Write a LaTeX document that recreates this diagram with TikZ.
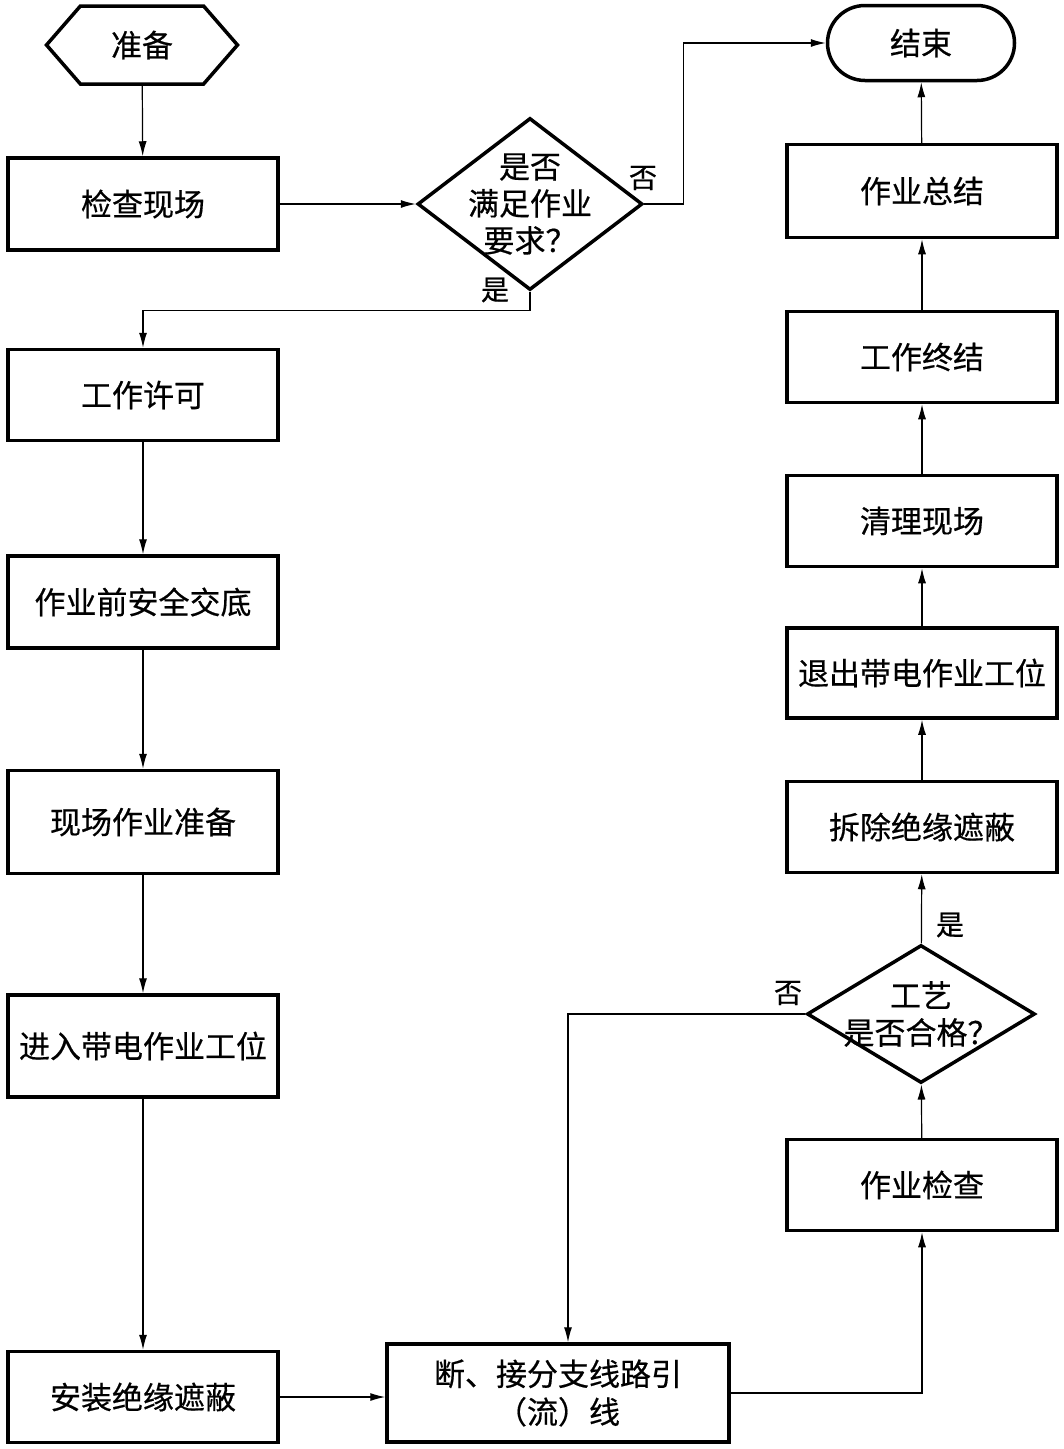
\documentclass[tikz,border=0pt]{standalone}
\usepackage{fontspec}
\setmainfont{Noto Sans CJK SC}[FakeBold=0.5]
\usetikzlibrary{arrows.meta,shapes.geometric,shapes.misc,shapes.symbols}
\newcommand{\thickw}{3.5pt}
\newcommand{\thinw}{1.2pt}

\begin{document}
\begin{tikzpicture}[x=1pt,y=-1pt]
        \tikzset{
            every node/.style = {font=\fontsize{31}{37}\selectfont, inner sep=0pt},
            stepbox/.style = {draw, line width=\thickw, rectangle, minimum width=270pt, minimum height=91pt},
            decision/.style = {draw, line width=\thickw, diamond},
            flow/.style = {line width=\thinw, -{Latex[length=15pt,width=8pt]}},
            answer/.style = {font=\fontsize{28}{30}\selectfont}
        }
        \useasboundingbox (0,0) rectangle (1064,1449);
        %\draw[help lines] (0,0) grid[step=100] (1064,1449);

        % left column
        \node[draw, line width=\thickw, signal, signal to=west and east, signal pointer angle=98,
              minimum width=191pt, minimum height=78pt] (prep) at (142,45) {准备};
        \node[stepbox, minimum height=92pt] (check) at (143,204) {检查现场};
        \node[stepbox] (permit) at (143,395) {工作许可};
        \node[stepbox, minimum height=92pt] (brief) at (143,602) {作业前安全交底};
        \node[stepbox, minimum height=103pt] (ready) at (143,822) {现场作业准备};
        \node[stepbox, minimum height=102pt] (enter) at (143,1046) {进入带电作业工位};
        \node[stepbox] (shield) at (143,1397) {安装绝缘遮蔽};

        % first decision
        \node[decision, minimum width=225pt, minimum height=172pt] (dec1) at (530,204) {};
        \node[align=center] (dec1txt) at (dec1) {是否\\满足作业\\要求？};
        \node[answer] (dec1no) at (643,178) {否};
        \node[answer] (dec1yes) at (495,290) {是};

        % bottom middle
        \node[stepbox, minimum width=342pt, minimum height=98pt, align=center,
              font=\fontsize{31}{38}\selectfont] (cut) at (558,1393)
            {断、接分支线路引\\（流）线};

        % right column
        \node[draw, line width=\thickw, rounded rectangle, minimum width=187pt, minimum height=75pt] (end) at (921,43) {结束};
        \node[stepbox, minimum height=93pt] (summary) at (922,191) {作业总结};
        \node[stepbox] (close) at (922,357) {工作终结};
        \node[stepbox] (clean) at (922,521) {清理现场};
        \node[stepbox, minimum height=90pt] (leave) at (922,673) {退出带电作业工位};
        \node[stepbox] (remove) at (922,827) {拆除绝缘遮蔽};
        \node[decision, minimum width=228pt, minimum height=138pt] (dec2) at (921,1014) {};
        \node[align=center] (dec2txt) at (dec2) {工艺\\是否合格？};
        \node[answer] (dec2yes) at (950,925) {是};
        \node[answer] (dec2no) at (788,993) {否};
        \node[stepbox] (inspect) at (922,1185) {作业检查};

        % connectors
        \draw[flow] (prep) -- (check);
        \draw[flow] (check) -- (dec1);
        \draw[flow] (dec1.east) -- ++(39,0) |- (end.west);
        \draw[flow] (dec1.south) -- ++(0,19) -| (permit.north);
        \draw[flow] (permit) -- (brief);
        \draw[flow] (brief) -- (ready);
        \draw[flow] (ready) -- (enter);
        \draw[flow] (enter) -- (shield);
        \draw[flow] (shield.east) -- (shield.east -| cut.west);
        \draw[flow] (cut.east) -| (inspect.south);
        \draw[flow] (inspect) -- (dec2);
        \draw[flow] (dec2.west) -| ([xshift=10pt]cut.north);
        \draw[flow] (dec2) -- (remove);
        \draw[flow] (remove) -- (leave);
        \draw[flow] (leave) -- (clean);
        \draw[flow] (clean) -- (close);
        \draw[flow] (close) -- (summary);
        \draw[flow] (summary) -- (end);
\end{tikzpicture}
\end{document}
